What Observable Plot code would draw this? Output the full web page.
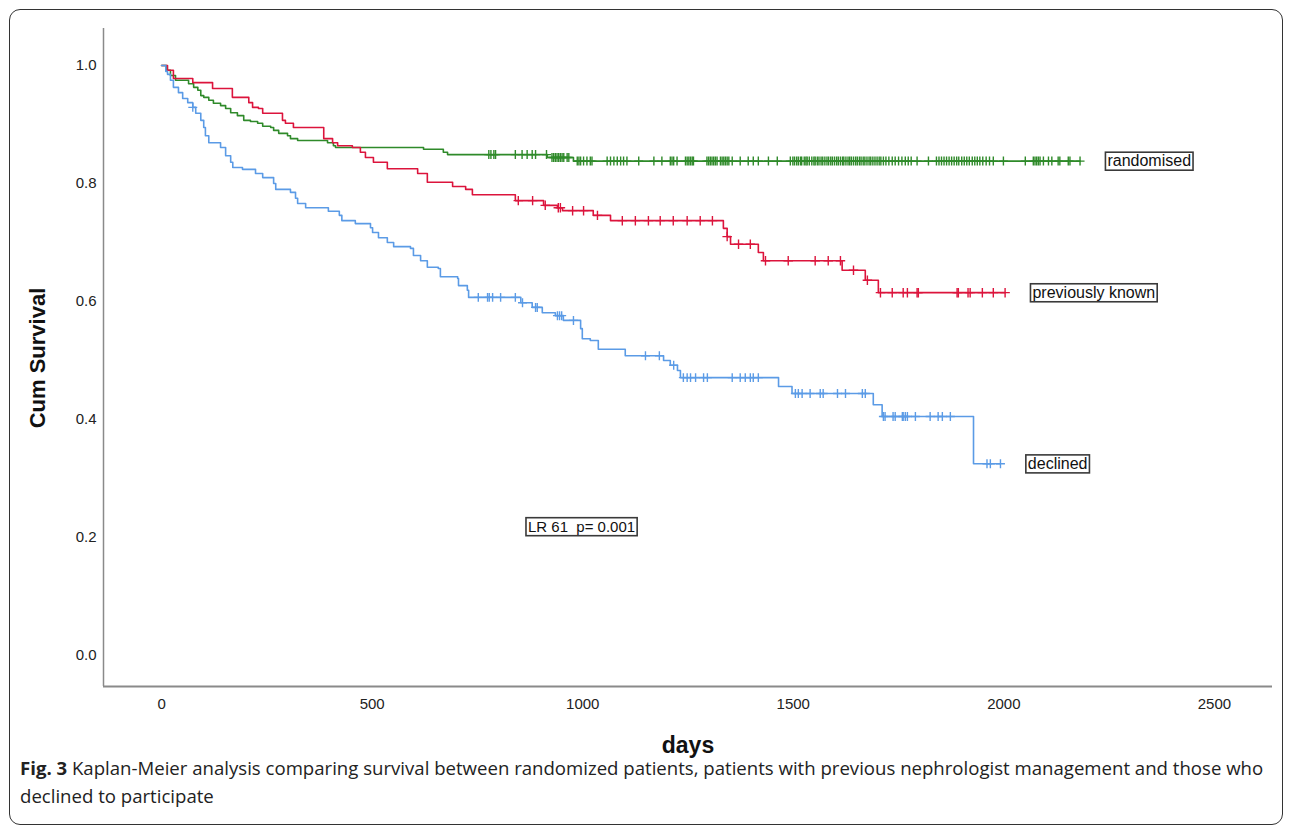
<!DOCTYPE html>
<html>
<head>
<meta charset="utf-8">
<script src="https://cdn.jsdelivr.net/npm/d3@7"></script>
<script src="https://cdn.jsdelivr.net/npm/@observablehq/plot@0.6"></script>
<style>
  html, body { margin: 0; padding: 0; background: #fff; }
  #page { position: relative; width: 1293px; height: 833px; overflow: hidden; }
  #border { position: absolute; left: 9px; top: 9px; width: 1274px; height: 816px; border: 1.3px solid #333; border-radius: 11px; box-sizing: border-box; }
  #chart { position: absolute; left: 0; top: 0; }
  .ytitle { position: absolute; left: 38px; top: 358px; transform: translate(-50%, -50%) rotate(-90deg); font: bold 22px "Liberation Sans", Arial, sans-serif; color: #111; white-space: nowrap; }
  .xtitle { position: absolute; left: 688px; top: 745px; transform: translate(-50%, -50%); font: bold 23px "Liberation Sans", Arial, sans-serif; line-height: 1; color: #111; white-space: nowrap; }
  #caption { position: absolute; left: 20px; top: 754px; font: 18.6px "Open Sans", sans-serif; line-height: 28px; color: #222; white-space: nowrap; }
  #caption b { font-weight: bold; }
</style>
</head>
<body>
<div id="page">
  <div id="border"></div>
  <div id="chart"></div>
  <div class="ytitle">Cum Survival</div>
  <div class="xtitle">days</div>
  <div id="caption"><b>Fig. 3</b> Kaplan-Meier analysis comparing survival between randomized patients, patients with previous nephrologist management and those who<br>declined to participate</div>
</div>
<script>
// ---------- data ----------
const groups = ["randomised", "previously known", "declined"];
const groupColors = ["#2f8a2a", "#dc143c", "#5b9be6"];
const xTicks = [0, 500, 1000, 1500, 2000, 2500];
const yTicks = [0, 0.2, 0.4, 0.6, 0.8, 1.0];
const lrStatistic = 61;
const pValue = "0.001";

// randomised (green)
const randomisedEventDays = [12, 21, 33, 64, 76, 86, 93, 100, 112, 123, 140, 152, 164, 180, 195, 211, 228, 240, 259, 266, 278, 299, 306, 323, 394, 408, 413, 622, 669, 679, 916, 978];
const randomisedEventSurv = [0.992, 0.983, 0.975, 0.969, 0.963, 0.958, 0.949, 0.946, 0.941, 0.936, 0.932, 0.927, 0.920, 0.915, 0.907, 0.905, 0.902, 0.897, 0.895, 0.890, 0.885, 0.881, 0.876, 0.873, 0.869, 0.864, 0.861, 0.858, 0.853, 0.849, 0.844, 0.838];
const randomisedCensorDays = [777, 782, 789, 793, 840, 856, 868, 880, 888, 914, 927, 931, 935, 939, 943, 947, 951, 955, 963, 967, 987, 991, 995, 1002, 1010, 1018, 1022, 1058, 1066, 1074, 1082, 1090, 1097, 1105, 1133, 1169, 1188, 1208, 1212, 1216, 1224, 1244, 1248, 1252, 1256, 1260, 1263, 1295, 1299, 1303, 1307, 1311, 1315, 1319, 1327, 1331, 1335, 1339, 1343, 1347, 1355, 1374, 1393, 1405, 1417, 1441, 1462,
  1493, 1499, 1503, 1508, 1512, 1517, 1520, 1526, 1530, 1533, 1538, 1544, 1549, 1552, 1557, 1561, 1566, 1570, 1575, 1580, 1584, 1589, 1593, 1598, 1603, 1607, 1612, 1617, 1620, 1625, 1630, 1634, 1638, 1643, 1648, 1652, 1657, 1661, 1666, 1670, 1675, 1680, 1684, 1689, 1694, 1699, 1704, 1708, 1714, 1720, 1727, 1735, 1742, 1750, 1758, 1766, 1773, 1780, 1794,
  1821, 1840, 1846, 1852, 1858, 1864, 1870, 1876, 1882, 1888, 1893, 1900, 1906, 1912, 1918, 1925, 1931, 1937, 1943, 1950, 1958, 1966, 1975, 1999,
  2051, 2070, 2074, 2078, 2082, 2086, 2094, 2106, 2114, 2129, 2133, 2153, 2157, 2181];

// previously known (red)
const knownEventDays = [14, 28, 74, 121, 168, 207, 216, 230, 240, 287, 294, 313, 385, 406, 418, 453, 472, 484, 503, 536, 608, 631, 691, 722, 738, 840, 907, 940, 952, 1025, 1066, 1334, 1343, 1351, 1417, 1429, 1616, 1671, 1702];
const knownEventSurv = [0.992, 0.978, 0.971, 0.961, 0.946, 0.937, 0.929, 0.927, 0.919, 0.907, 0.902, 0.895, 0.876, 0.869, 0.864, 0.861, 0.853, 0.844, 0.836, 0.825, 0.817, 0.802, 0.795, 0.790, 0.781, 0.771, 0.763, 0.759, 0.754, 0.746, 0.737, 0.724, 0.710, 0.697, 0.683, 0.669, 0.653, 0.636, 0.615];
const knownCensorDays = [847, 881, 911, 942, 947, 976, 1002, 1035, 1094, 1125, 1156, 1184, 1215, 1248, 1279, 1308, 1343, 1370, 1398, 1434, 1488, 1552, 1583, 1612, 1643, 1676, 1707, 1735, 1761, 1771, 1794, 1797, 1889, 1892, 1915, 1920, 1949, 1975, 2003];

// declined (blue)
const declinedEventDays = [10, 14, 21, 28, 40, 50, 62, 74, 81, 93, 100, 104, 112, 140, 152, 164, 169, 192, 223, 240, 266, 271, 306, 318, 323, 342, 396, 422, 428, 460, 496, 501, 515, 536, 551, 591, 598, 615, 631, 657, 662, 703, 705, 726, 729, 853, 880, 904, 935, 954, 995, 999, 1018, 1037, 1101, 1192, 1208, 1225, 1232, 1465, 1497, 1690, 1711, 1928];
const declinedEventSurv = [0.990, 0.985, 0.975, 0.963, 0.954, 0.944, 0.937, 0.929, 0.919, 0.907, 0.895, 0.881, 0.869, 0.861, 0.847, 0.836, 0.827, 0.824, 0.817, 0.810, 0.800, 0.790, 0.785, 0.775, 0.766, 0.759, 0.753, 0.746, 0.737, 0.732, 0.725, 0.717, 0.708, 0.700, 0.693, 0.690, 0.678, 0.669, 0.658, 0.656, 0.642, 0.639, 0.627, 0.619, 0.607, 0.598, 0.590, 0.581, 0.576, 0.568, 0.554, 0.537, 0.534, 0.519, 0.508, 0.500, 0.492, 0.483, 0.471, 0.456, 0.444, 0.425, 0.405, 0.325];
const declinedCensorDays = [74, 752, 774, 778, 786, 805, 840, 857, 888, 892, 940, 945, 950, 978, 1149, 1182, 1216, 1239, 1248, 1256, 1268, 1287, 1296, 1355, 1374, 1386, 1398, 1405, 1417, 1505, 1512, 1521, 1540, 1564, 1571, 1605, 1624, 1664, 1671, 1714, 1718, 1737, 1742, 1759, 1761, 1766, 1771, 1790, 1825, 1844, 1854, 1873, 1960, 1968, 1992];

// ---------- build tables ----------
const series = [
  [randomisedEventDays, randomisedEventSurv, randomisedCensorDays],
  [knownEventDays, knownEventSurv, knownCensorDays],
  [declinedEventDays, declinedEventSurv, declinedCensorDays]
];
const steps = [], censored = [], ends = [];
series.forEach(([eD, eS, cD], gi) => {
  const group = groups[gi];
  const survAt = t => { let s = 1; eD.forEach((d, i) => { if (d <= t) s = eS[i]; }); return s; };
  steps.push({group, t: 0, s: 1});
  eD.forEach((t, i) => steps.push({group, t, s: eS[i]}));
  const lastT = Math.max(d3.max(cD), eD[eD.length - 1]);
  const lastS = eS[eS.length - 1];
  steps.push({group, t: lastT, s: lastS});
  cD.forEach(t => censored.push({group, t, s: survAt(t)}));
  ends.push({group, t: lastT, s: lastS});
});

const xDomain = [-138, 2638];
const yDomain = [-0.0525, 1.0627];
const color = {domain: groups, range: groupColors};

const chart = Plot.plot({
  width: 1293,
  height: 735,
  marginLeft: 103,
  marginRight: 21,
  marginTop: 28,
  marginBottom: 49,
  style: {fontFamily: "'Liberation Sans', Arial, sans-serif", fontSize: "15px", color: "#222", background: "transparent"},
  x: {domain: xDomain, ticks: xTicks, tickSize: 0, tickPadding: 12, label: null, tickFormat: d => String(d)},
  y: {domain: yDomain, ticks: yTicks, tickSize: 0, tickPadding: 7, label: null, tickFormat: d3.format(".1f")},
  color,
  marks: [
    Plot.ruleX([xDomain[0]], {stroke: "#8a8a8a", strokeWidth: 1.5}),
    Plot.ruleY([yDomain[0]], {stroke: "#8a8a8a", strokeWidth: 2}),
    Plot.line(steps, {x: "t", y: "s", z: "group", stroke: "group", curve: "step-after", strokeWidth: 1.6}),
    Plot.dot(censored, {x: "t", y: "s", stroke: "group", symbol: "plus", r: d => d.group === "previously known" ? 4.2 : 3.8, strokeWidth: 1.4}),
    Plot.text(ends, {x: d => d.t + 65, y: "s", text: "group", textAnchor: "start", fill: "#111", fontSize: 16}),
    Plot.text([{t: 870, s: 0.218}], {x: "t", y: "s", text: () => `LR ${lrStatistic}  p= ${pValue}`, textAnchor: "start", fill: "#111", fontSize: 15})
  ]
});
document.getElementById("chart").appendChild(chart);

// boxes around the annotation labels
chart.querySelectorAll('g[aria-label="text"] text').forEach(t => {
  t.style.whiteSpace = "pre";
  const bb = t.getBBox();
  const r = document.createElementNS("http://www.w3.org/2000/svg", "rect");
  r.setAttribute("x", bb.x - 2);
  r.setAttribute("y", bb.y);
  r.setAttribute("width", bb.width + 4);
  r.setAttribute("height", bb.height + 1);
  r.setAttribute("fill", "#fff");
  r.setAttribute("stroke", "#3a3a3a");
  r.setAttribute("stroke-width", "1.6");
  const tr = t.getAttribute("transform");
  if (tr) r.setAttribute("transform", tr);
  t.parentNode.insertBefore(r, t);
});
</script>
</body>
</html>
